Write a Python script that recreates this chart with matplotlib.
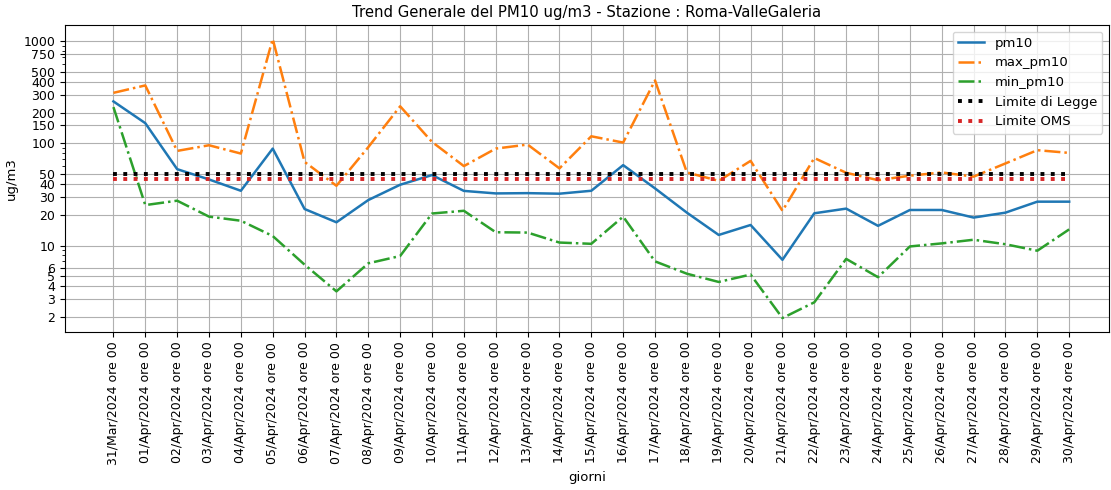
import numpy as np
import pandas as pd
import matplotlib
matplotlib.use('Agg')
import matplotlib.pyplot as plt
from matplotlib.ticker import FixedLocator, ScalarFormatter, NullFormatter

# Days (one label per day)
giorni = pd.date_range('2024-03-31', '2024-04-30', freq='D').strftime('%d/%b/%Y ore %H').tolist()

# Daily values (ug/m3)
pm10 = [258, 158, 56, 44.4, 34.4, 89, 22.8, 16.9, 27.9, 39.4, 49,
        34.3, 32.4, 32.6, 32.2, 34.4, 61.3, 36.3, 21, 12.7, 15.9,
        7.25, 20.7, 23, 15.6, 22.3, 22.3, 18.8, 21, 26.9, 26.9]
max_pm10 = [313, 370, 84.5, 96, 79.6, 1055, 66, 38.5, 92, 231, 103.5,
            60, 89, 97.5, 57, 117.5, 102, 414, 52, 43, 67.5,
            21.9, 72, 51.6, 43.7, 48.3, 52, 47.3, 63.7, 85.9, 80.8]
min_pm10 = [227, 24.9, 27.5, 19.2, 17.5, 12.4, 6.5, 3.56, 6.7, 7.9, 20.6,
            21.9, 13.5, 13.4, 10.7, 10.4, 19.2, 7.0, 5.3, 4.4, 5.2,
            1.95, 2.78, 7.4, 4.9, 9.8, 10.5, 11.4, 10.3, 8.9, 14.4]
limite_legge = 50
limite_oms = 45

y_ticks = [2, 3, 4, 5, 6, 10, 20, 30, 40, 50, 100, 150, 200, 300, 400, 500, 750, 1000]

x = np.arange(len(giorni))

fig = plt.figure(figsize=(11.11, 4.9), dpi=100)
ax = fig.add_axes([65 / 1111, 1 - 332 / 490, (1109 - 65) / 1111, (332 - 25) / 490])

ax.plot(x, pm10, '-', color='tab:blue', lw=1.8, label='pm10')
ax.plot(x, max_pm10, '-.', color='tab:orange', lw=1.8, label='max_pm10')
ax.plot(x, min_pm10, '-.', color='tab:green', lw=1.8, label='min_pm10')
ax.plot(x, [limite_legge] * len(x), ':', color='black', lw=2.8, label='Limite di Legge')
ax.plot(x, [limite_oms] * len(x), ':', color='tab:red', lw=2.8, label='Limite OMS')

ax.set_yscale('log')
ax.yaxis.set_major_locator(FixedLocator(y_ticks))
ax.yaxis.set_major_formatter(ScalarFormatter())
ax.yaxis.set_minor_formatter(NullFormatter())
ax.set_xticks(x)
ax.set_xticklabels(giorni, rotation=90)
ax.set_xlim(-1.52, 31.25)
ax.tick_params(labelsize=9)

ax.set_title('Trend Generale del PM10 ug/m3 - Stazione : Roma-ValleGaleria', fontsize=10.7)
ax.set_xlabel('giorni', fontsize=9.5)
ax.set_ylabel('ug/m3', fontsize=9.5)
ax.grid(True)
ax.legend(loc='upper right', fontsize=9.5)

fig.savefig('out.png', dpi=100)
